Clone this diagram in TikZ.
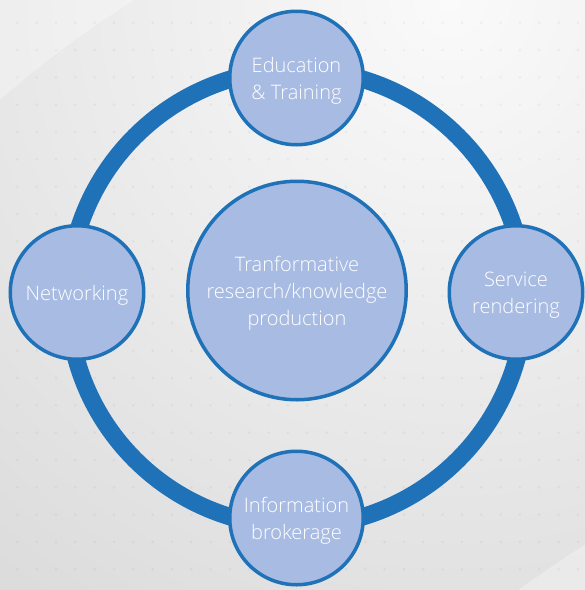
\documentclass[tikz,border=0pt]{standalone}
\usepackage{fontspec}
\setmainfont{Open Sans Light}
\definecolor{ringblue}{HTML}{1F71B8}
\definecolor{fillblue}{HTML}{A8BBE2}
\definecolor{bglight}{HTML}{FAFAFA}
\definecolor{bgdark}{HTML}{BCBCBC}
\begin{document}
\begin{tikzpicture}[x=1pt,y=-1pt,
  bubble/.style={circle, draw=ringblue, line width=3.5pt, fill=fillblue,
    text=white, align=center, inner sep=0pt, text depth=-2pt,
    font=\fontsize{20}{27}\selectfont},
  smallbubble/.style={bubble, minimum size=133.5pt},
  bigbubble/.style={bubble, minimum size=218.5pt},
  ring/.style={draw=ringblue, line width=17.5pt},
  dot/.style={fill=black, opacity=0.035}]
\useasboundingbox (0,0) rectangle (585,590);
% background
\begin{scope}
  \clip (0,0) rectangle (585,590);
  \shade[inner color=bglight, outer color=bgdark] (450,0) circle (1500pt);
  \fill[white, opacity=0.3] (0,0) -- (0,100) .. controls (45,60) and (90,28) .. (134,0) -- cycle;
  \fill[white, opacity=0.3] (585,545) .. controls (560,560) and (540,575) .. (518,590) -- (585,590) -- cycle;
  \foreach \i in {0,...,29}{
    \foreach \j in {0,...,20}{
      \fill[dot] ({17.3+19.33*\i},{22.7+27.33*\j}) circle (1.6pt);
    }
  }
\end{scope}
% ring
\coordinate (ringc) at (296.5,298);
\draw[ring] (ringc) circle (228.5pt);
% nodes
\node[bigbubble] (core) at (297,290.5) {Tranformative\\research/knowledge\\production};
\node[smallbubble] (edu) at (296.5,78) {Education\\\& Training};
\node[smallbubble] (net) at (77,292.5) {Networking};
\node[smallbubble] (svc) at (516,292.5) {Service\\rendering};
\node[smallbubble] (info) at (296.5,518) {Information\\brokerage};
\end{tikzpicture}
\end{document}
